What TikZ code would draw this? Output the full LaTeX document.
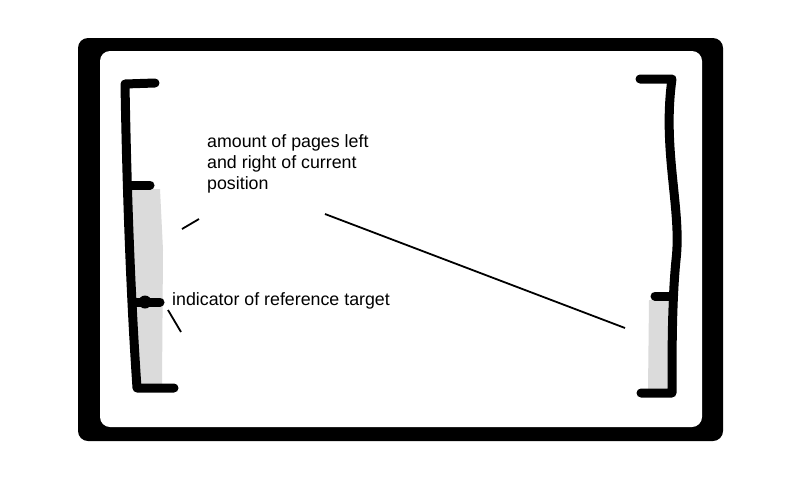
\documentclass[tikz,border=0pt]{standalone}
\usepackage{fontspec}
\setmainfont{Liberation Sans}
\begin{document}
\begin{tikzpicture}[x=1pt,y=-1pt,
  marker/.style={line width=9pt,line cap=round,line join=round,black},
  shade/.style={fill=black!14,draw=none},
  lbl/.style={font=\fontsize{17.8}{21}\selectfont,align=left,inner sep=0pt},
  thin/.style={line width=1.8pt,black}]
\useasboundingbox (0,0) rectangle (800,480);
\fill[white] (0,0) rectangle (800,480);
\fill[black,rounded corners=10pt] (78,38) rectangle (723,441);
\fill[white,rounded corners=10pt] (100,51) rectangle (702,427);
% left bracket
\fill[shade] (131,189) -- (160,189) -- (163,250) -- (162,385) -- (134,385) -- cycle;
\draw[marker] (155,83) -- (125,84) .. controls (127,200) and (131,300) .. (137,388) -- (174,388);
\draw[marker] (130,185) -- (150,185);
\draw[marker] (134,302) -- (160,302);
\fill[black] (145,302) circle (6.5pt);
% right bracket
\fill[shade] (649,300) -- (668,300) -- (669,390) -- (648,390) -- cycle;
\draw[marker] (640,79) -- (672,79) .. controls (662,150) and (682,210) .. (676,260) .. controls (672,300) and (672,350) .. (672,393) -- (641,393);
\draw[marker] (655,296) -- (671,296);
% labels
\node[lbl,anchor=north west] (amount) at (207,134) {amount of pages left\\and right of current\\position};
\node[lbl,anchor=west] (indicator) at (172,301) {indicator of reference target};
\coordinate (a1) at (199,219);
\coordinate (a2) at (182,229);
\coordinate (b1) at (325,214);
\coordinate (b2) at (625,328);
\coordinate (c1) at (168,310);
\coordinate (c2) at (181,332);
\draw[thin] (a1) -- (a2);
\draw[thin] (b1) -- (b2);
\draw[thin] (c1) -- (c2);
\end{tikzpicture}
\end{document}
